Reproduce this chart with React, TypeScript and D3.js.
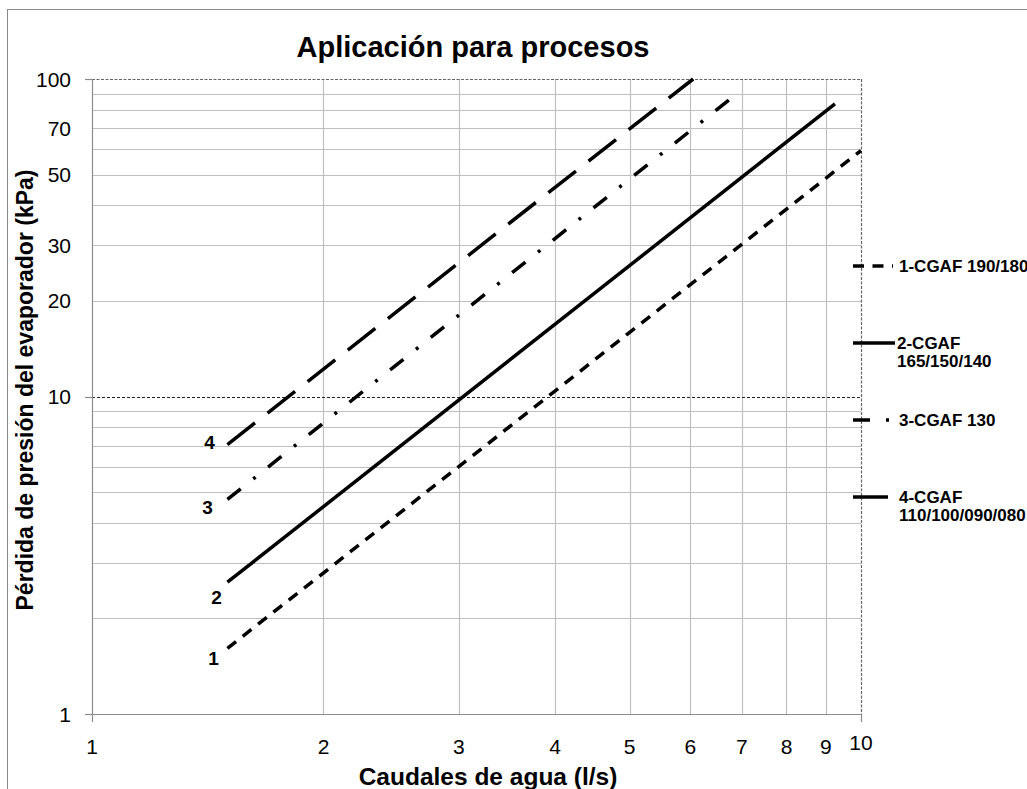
import React, { useEffect, useRef } from 'react';
import * as d3 from 'd3';

// values (log-log, straight lines -> start and end points)
const line1Flow = [1.5, 10];
const line1Drop = [1.61, 59.5];
const line2Flow = [1.5, 9.25];
const line2Drop = [2.6, 83.5];
const line3Flow = [1.5, 6.94];
const line3Drop = [4.74, 91];
const line4Flow = [1.5, 6.05];
const line4Drop = [7.06, 100];

const lineIds = ['1', '2', '3', '4'];
const legendNames = [
  ['1-CGAF 190/180'],
  ['2-CGAF', '165/150/140'],
  ['3-CGAF 130'],
  ['4-CGAF', '110/100/090/080'],
];

const xTicks = [1, 2, 3, 4, 5, 6, 7, 8, 9, 10];
const yTickLabels = [1, 10, 20, 30, 50, 70, 100];
const yGrid = [2, 3, 4, 5, 6, 7, 8, 9, 20, 30, 40, 50, 60, 70, 80, 90];

const dashes = ['11,8.5', null, '17,16,3,16', '35,16'];
const labelOffsets = [[-14, 10], [-11, 15], [-20, 8], [-18, -2]];

const font = 'Arial, "Liberation Sans", sans-serif';

const App = () => {
  const ref = useRef<SVGSVGElement>(null);

  useEffect(() => {
    const svg = d3.select(ref.current);
    svg.selectAll('*').remove();

    const x = d3.scaleLog().domain([1, 10]).range([92, 861]);
    const y = d3.scaleLog().domain([1, 100]).range([714, 79]);

    // outer frame of the chart area
    svg.append('rect')
      .attr('x', 7.5).attr('y', 9.5)
      .attr('width', 1100).attr('height', 900)
      .attr('fill', 'white').attr('stroke', '#8a8a8a');

    const g = svg.append('g');

    g.selectAll('.hgrid').data(yGrid).enter().append('line')
      .attr('x1', x(1)).attr('x2', x(10))
      .attr('y1', d => Math.round(y(d)) + 0.5).attr('y2', d => Math.round(y(d)) + 0.5)
      .attr('stroke', '#c0c0c0').attr('stroke-width', 1.2);

    g.selectAll('.vgrid').data(xTicks.slice(1, -1)).enter().append('line')
      .attr('x1', d => Math.round(x(d)) + 0.5).attr('x2', d => Math.round(x(d)) + 0.5)
      .attr('y1', y(100)).attr('y2', y(1))
      .attr('stroke', '#c0c0c0').attr('stroke-width', 1.2);

    // major gridline at 10 and the top/right borders, dashed
    g.append('line')
      .attr('x1', x(1)).attr('x2', x(10))
      .attr('y1', Math.round(y(10)) + 0.5).attr('y2', Math.round(y(10)) + 0.5)
      .attr('stroke', '#222').attr('stroke-dasharray', '3,2');
    g.append('line')
      .attr('x1', x(1)).attr('x2', x(10))
      .attr('y1', Math.round(y(100)) + 0.5).attr('y2', Math.round(y(100)) + 0.5)
      .attr('stroke', '#666').attr('stroke-dasharray', '3,1.5').attr('stroke-width', 1.2);
    g.append('line')
      .attr('x1', Math.round(x(10)) + 0.5).attr('x2', Math.round(x(10)) + 0.5)
      .attr('y1', y(100)).attr('y2', y(1))
      .attr('stroke', '#666').attr('stroke-dasharray', '3,1.5').attr('stroke-width', 1.2);

    // axes lines
    g.append('line')
      .attr('x1', Math.round(x(1)) + 0.5).attr('x2', Math.round(x(1)) + 0.5)
      .attr('y1', y(100)).attr('y2', y(1) + 8)
      .attr('stroke', '#8c8c8c').attr('stroke-width', 1.2);
    g.append('line')
      .attr('x1', x(1) - 7).attr('x2', x(10))
      .attr('y1', Math.round(y(1)) + 0.5).attr('y2', Math.round(y(1)) + 0.5)
      .attr('stroke', '#8c8c8c').attr('stroke-width', 1.2);

    g.selectAll('.ytick').data([1, 10, 100]).enter().append('line')
      .attr('x1', x(1) - 7).attr('x2', x(1))
      .attr('y1', d => Math.round(y(d)) + 0.5).attr('y2', d => Math.round(y(d)) + 0.5)
      .attr('stroke', '#8c8c8c').attr('stroke-width', 1.2);
    g.append('line')
      .attr('x1', Math.round(x(10)) + 0.5).attr('x2', Math.round(x(10)) + 0.5)
      .attr('y1', y(1)).attr('y2', y(1) + 8)
      .attr('stroke', '#8c8c8c').attr('stroke-width', 1.2);

    // tick labels
    g.selectAll('.xlab').data(xTicks).enter().append('text')
      .attr('x', d => x(d)).attr('y', y(1) + 40)
      .attr('dy', d => d === 10 ? -4 : 0)
      .attr('text-anchor', 'middle')
      .attr('font-family', font).attr('font-size', 21)
      .text(d => d);

    g.selectAll('.ylab').data(yTickLabels).enter().append('text')
      .attr('x', 71).attr('y', d => y(d)).attr('dy', '0.36em')
      .attr('text-anchor', 'end')
      .attr('font-family', font).attr('font-size', 21)
      .text(d => d);

    // titles
    svg.append('text')
      .attr('x', 473).attr('y', 57)
      .attr('text-anchor', 'middle')
      .attr('font-family', font).attr('font-size', 29).attr('font-weight', 'bold')
      .text('Aplicación para procesos');

    svg.append('text')
      .attr('x', 488).attr('y', 785)
      .attr('text-anchor', 'middle')
      .attr('font-family', font).attr('font-size', 24.5).attr('font-weight', 'bold')
      .text('Caudales de agua (l/s)');

    svg.append('text')
      .attr('transform', 'translate(33,' + 390 + ') rotate(-90)')
      .attr('text-anchor', 'middle')
      .attr('font-family', font).attr('font-size', 23).attr('font-weight', 'bold')
      .text('Pérdida de presión del evaporador (kPa)');

    // series
    const flows = [line1Flow, line2Flow, line3Flow, line4Flow];
    const drops = [line1Drop, line2Drop, line3Drop, line4Drop];
    const line = d3.line<[number, number]>()
      .x(d => x(d[0]))
      .y(d => y(d[1]));

    flows.forEach((f, i) => {
      const pts = f.map((q, j) => [q, drops[i][j]] as [number, number]);
      g.append('path')
        .datum(pts)
        .attr('fill', 'none')
        .attr('stroke', '#000')
        .attr('stroke-width', 3.5)
        .attr('stroke-dasharray', dashes[i])
        .attr('d', line);

      g.append('text')
        .attr('x', x(f[0]) + labelOffsets[i][0])
        .attr('y', y(drops[i][0]) + labelOffsets[i][1])
        .attr('dy', '0.36em')
        .attr('text-anchor', 'middle')
        .attr('font-family', font).attr('font-size', 19).attr('font-weight', 'bold')
        .text(lineIds[i]);
    });

    // legend on the right
    const legend = svg.append('g');
    legendNames.forEach((names, i) => {
      const ly = 266 + i * 77;
      legend.append('line')
        .attr('x1', 853).attr('x2', i === 1 ? 895 : 893)
        .attr('y1', ly).attr('y2', ly)
        .attr('stroke', '#000').attr('stroke-width', 3.5)
        .attr('stroke-dasharray', dashes[i]);
      const t = legend.append('text')
        .attr('x', i === 1 ? 897 : 899).attr('y', ly)
        .attr('font-family', font).attr('font-size', 17).attr('font-weight', 'bold');
      names.forEach((n, j) => {
        t.append('tspan')
          .attr('x', i === 1 ? 897 : 899)
          .attr('dy', j === 0 ? '0.36em' : 18)
          .text(n);
      });
    });
  }, []);

  return (
    <svg
      ref={ref}
      width={1027}
      height={789}
      style={{ position: 'absolute', left: 0, top: 0, background: 'white' }}
    />
  );
};

export default App;
